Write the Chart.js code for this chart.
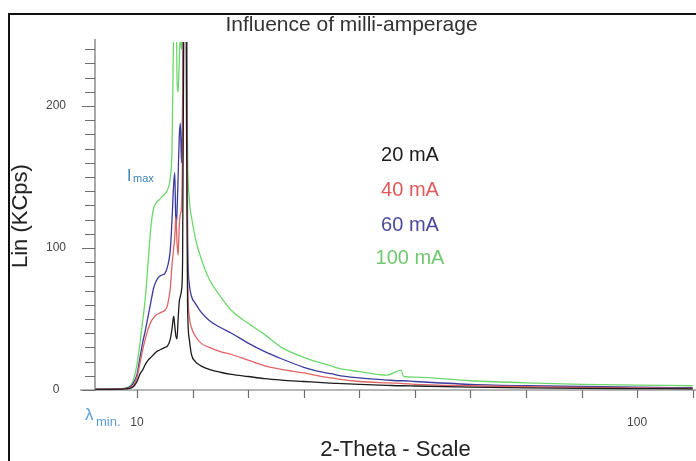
<!DOCTYPE html>
<html>
<head>
<meta charset="utf-8">
<title>Influence of milli-amperage</title>
<script src="https://cdn.jsdelivr.net/npm/chart.js@4.4.1/dist/chart.umd.min.js"></script>
<style>
  html, body { margin: 0; padding: 0; background: #fff; }
  #wrap { width: 696px; height: 461px; position: relative; }
</style>
</head>
<body>
<div id="wrap"><canvas id="spectrum"></canvas></div>
<script>
// 2-Theta positions (deg) shared by all four scans
const twoTheta = [2.5, 6, 8, 9, 9.5, 10, 10.5, 11, 11.5, 12, 12.5, 13, 13.5, 14, 14.5,
  15, 15.5, 16, 16.3, 16.6, 16.8, 17, 17.2, 17.4, 17.6, 17.8, 18, 18.2, 18.5, 18.7,
  18.9, 19.1, 19.4, 19.8, 20.5, 21.5, 23, 25, 27, 30, 33, 36, 40, 44, 45,
  46, 50, 55, 57.5, 58, 60, 70, 80, 90, 100, 110];

// intensities in KCps
const lin20mA = [0.5, 0.5, 0.8, 1.5, 3, 6, 11, 14, 18, 21, 23, 25, 27, 28, 29,
  30, 31, 36, 43, 52, 45, 38, 36, 50, 62, 66, 70, 90, 330, 420,
  200, 60, 36, 25, 20, 17, 14.5, 12.5, 11, 9.5, 8, 7, 6, 5, 4.8,
  4.6, 4, 3.3, 3, 3, 2.8, 2, 1.5, 1.2, 1, 0.8];
const lin40mA = [0.5, 0.6, 1, 2, 4, 9, 18, 28, 36, 43, 48, 51, 53, 54, 55,
  56, 60, 72, 88, 100, 108, 122, 104, 95, 115, 124, 128, 175, 380, 440,
  260, 85, 52, 44, 38, 33, 30, 27, 25, 21, 17, 14.5, 12, 9, 8.5,
  7.8, 6, 5, 4.6, 4.5, 4, 3, 2.3, 1.8, 1.5, 1.2];
const lin60mA = [0.5, 0.7, 1.2, 3, 6, 11, 22, 33, 42, 52, 62, 72, 77, 80, 81,
  82, 87, 99, 120, 145, 153, 115, 125, 150, 178, 188, 160, 200, 400, 460,
  300, 110, 75, 66, 61, 55, 49, 44, 40, 33, 27, 22, 16, 12, 11.5,
  10.5, 8.5, 7, 6.5, 6.5, 6, 4, 3, 2.5, 2, 1.6];
const lin100mA = [0.6, 0.8, 1.5, 4, 9, 18, 32, 48, 65, 90, 115, 128, 132, 134, 136,
  138, 141, 150, 170, 260, 330, 300, 220, 210, 230, 250, 240, 260, 380, 450,
  300, 170, 135, 122, 107, 93, 78, 66, 56, 47, 39, 30, 23, 18, 17,
  15.5, 13, 10.5, 14, 9.5, 9, 6.5, 5, 4, 3.5, 3];

const seriesNames = ['20 mA', '40 mA', '60 mA', '100 mA'];
const seriesValues = [lin20mA, lin40mA, lin60mA, lin100mA];
const lineColors = ['#1c1c1c', '#e06464', '#3b3b9e', '#6cd86c'];
const textColors = ['#1c1c1c', '#e05a5a', '#4a4a9c', '#70c870'];
const yLabelTicks = [0, 100, 200];
const xLabelTicks = [10, 100];

const FONT = "'Liberation Sans', Arial, sans-serif";

function toPoints(values) {
  return twoTheta.map(function(t, i) { return { x: t, y: values[i] }; });
}

const decor = {
  id: 'decor',
  beforeDraw(chart) {
    const ctx = chart.ctx;
    ctx.save();
    ctx.fillStyle = '#fff';
    ctx.fillRect(0, 0, chart.width, chart.height);
    ctx.restore();
  },
  beforeDatasetsDraw(chart) {
    const { ctx, chartArea } = chart;
    const xs = chart.scales.x, ys = chart.scales.y;
    const y0 = ys.getPixelForValue(0);
    ctx.save();
    ctx.strokeStyle = '#6e6e6e';
    ctx.lineWidth = 1.2;
    // axis lines
    ctx.beginPath();
    ctx.moveTo(80, y0); ctx.lineTo(chart.width, y0);
    ctx.moveTo(chartArea.left, chartArea.top - 3); ctx.lineTo(chartArea.left, y0 + 1);
    ctx.stroke();
    // y tick marks every 10
    ctx.beginPath();
    ys.ticks.forEach(function(t) {
      const py = Math.round(ys.getPixelForValue(t.value)) + 0.5;
      const len = t.value % 100 === 0 ? 13 : 10;
      ctx.moveTo(chartArea.left - len, py); ctx.lineTo(chartArea.left, py);
    });
    // x tick marks every 10
    xs.ticks.forEach(function(t) {
      const px = Math.round(xs.getPixelForValue(t.value)) + 0.5;
      ctx.moveTo(px, y0); ctx.lineTo(px, y0 + 8);
    });
    ctx.stroke();
    ctx.restore();
  },
  afterDraw(chart) {
    const ctx = chart.ctx;
    ctx.save();
    // frame
    ctx.strokeStyle = '#111';
    ctx.lineWidth = 2;
    ctx.beginPath();
    ctx.moveTo(9, chart.height); ctx.lineTo(9, 14); ctx.lineTo(chart.width, 14);
    ctx.stroke();

    // series labels
    ctx.font = '20px ' + FONT;
    ctx.textAlign = 'center';
    ctx.textBaseline = 'middle';
    const labelY = [155, 190, 225, 258];
    seriesNames.forEach(function(name, i) {
      ctx.fillStyle = textColors[i];
      ctx.fillText(name, 410, labelY[i]);
    });

    // I max
    ctx.textAlign = 'left';
    ctx.textBaseline = 'alphabetic';
    ctx.fillStyle = '#3d80b4';
    ctx.font = '16px ' + FONT;
    ctx.fillText('I', 127, 181);
    ctx.font = '11px ' + FONT;
    ctx.fillText('max', 133, 182);

    // lambda min
    ctx.fillStyle = '#5c9bd6';
    ctx.font = '17px ' + FONT;
    ctx.fillText('λ', 85, 420);
    ctx.font = '13px ' + FONT;
    ctx.fillText('min.', 96, 426);
    ctx.restore();
  }
};

new Chart(document.getElementById('spectrum'), {
  type: 'line',
  data: {
    datasets: seriesNames.map(function(name, i) {
      return {
        label: name,
        data: toPoints(seriesValues[i]),
        borderColor: lineColors[i],
        backgroundColor: lineColors[i],
        borderWidth: 1.3,
        pointRadius: 0,
        cubicInterpolationMode: 'monotone',
        fill: false
      };
    })
  },
  options: {
    responsive: true,
    maintainAspectRatio: false,
    animation: false,
    layout: { padding: { left: 7, right: 0, top: 0, bottom: 0 } },
    plugins: {
      legend: { display: false },
      tooltip: { enabled: false },
      title: {
        display: true,
        text: 'Influence of milli-amperage',
        color: '#333',
        font: { family: FONT, size: 21, weight: 'normal', lineHeight: 1.1 },
        padding: { top: 14, bottom: 5 }
      }
    },
    scales: {
      x: {
        type: 'linear',
        min: 2.44,
        max: 110.6,
        grid: { display: false },
        border: { display: false },
        ticks: {
          stepSize: 10,
          includeBounds: false,
          autoSkip: false,
          maxRotation: 0,
          padding: 17,
          color: '#444',
          font: { family: FONT, size: 12 },
          callback: function(v) { return xLabelTicks.indexOf(v) >= 0 ? String(v) : ''; }
        },
        title: {
          display: true,
          text: '2-Theta - Scale',
          color: '#222',
          font: { family: FONT, size: 22, lineHeight: 1 },
          padding: { top: 0, bottom: 0 }
        },
        afterFit: function(scale) {
          scale.height = 71;
          scale.paddingLeft = 0;
          scale.paddingRight = 0;
        }
      },
      y: {
        min: 0,
        max: 245,
        grid: { display: false },
        border: { display: false },
        ticks: {
          stepSize: 10,
          includeBounds: false,
          autoSkip: false,
          crossAlign: 'center',
          padding: 21,
          color: '#444',
          font: { family: FONT, size: 12 },
          callback: function(v) { return yLabelTicks.indexOf(v) >= 0 ? String(v) : ''; }
        },
        title: {
          display: true,
          text: 'Lin (KCps)',
          color: '#222',
          font: { family: FONT, size: 22, lineHeight: 1 },
          padding: { top: 3, bottom: 0 }
        },
        afterFit: function(scale) {
          scale.width = 88;
          scale.paddingTop = 0;
          scale.paddingBottom = 0;
        }
      }
    }
  },
  plugins: [decor]
});
</script>
</body>
</html>
